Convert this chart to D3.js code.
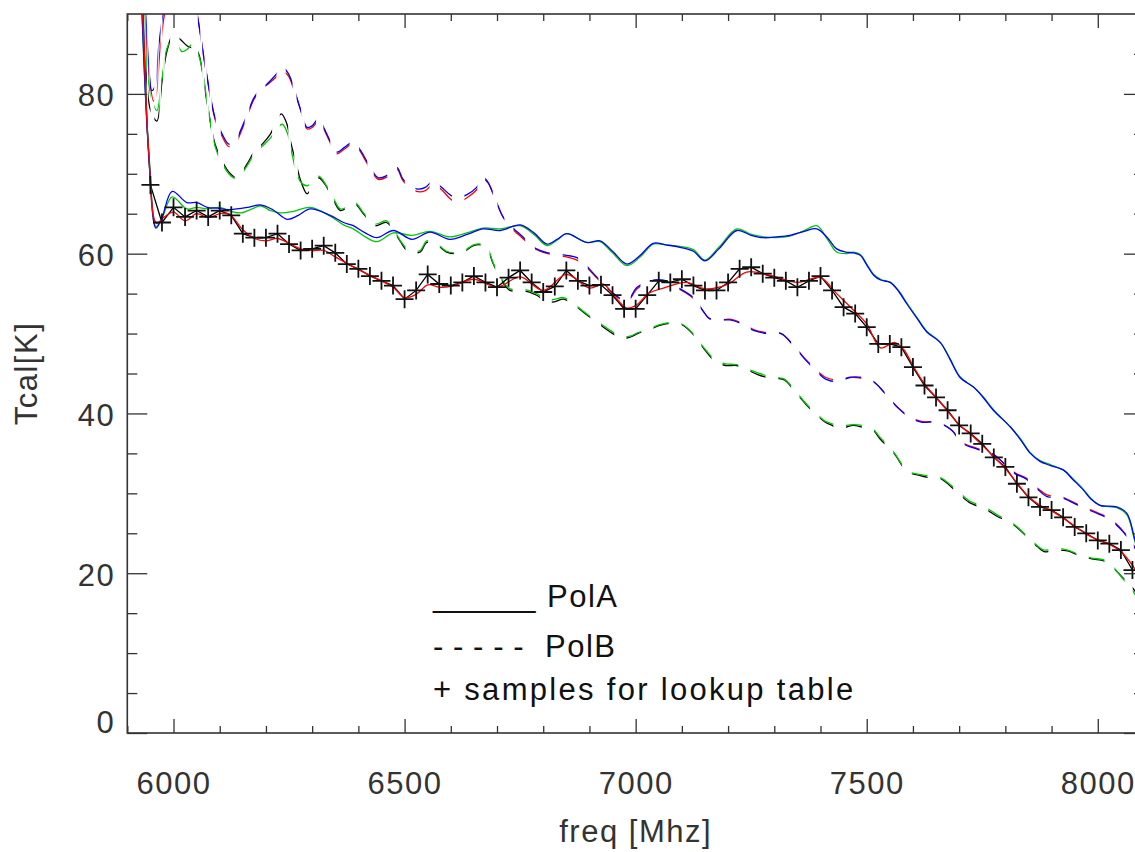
<!DOCTYPE html>
<html>
<head>
<meta charset="utf-8">
<script src="https://cdn.jsdelivr.net/npm/d3@7"></script>
<style>
  body { margin: 0; background: #fff; }
  text { font-family: "Liberation Sans", Arial, Helvetica, sans-serif; }
</style>
</head>
<body>
<div id="chart"></div>
<script>
// step 0 the data, freq in MHz, Tcal in K

// lookup table samples (the + marks), every 25 MHz
const sampleFreq = [5950, 5975, 6000, 6025, 6050, 6075, 6100, 6125, 6150, 6175, 6200, 6225, 6250, 6275, 6300, 6325,
  6350, 6375, 6400, 6425, 6450, 6475, 6500, 6525, 6550, 6575, 6600, 6625, 6650, 6675, 6700, 6725, 6750, 6775,
  6800, 6825, 6850, 6875, 6900, 6925, 6950, 6975, 7000, 7025, 7050, 7075, 7100, 7125, 7150, 7175, 7200, 7225,
  7250, 7275, 7300, 7325, 7350, 7375, 7400, 7425, 7450, 7475, 7500, 7525, 7550, 7575, 7600, 7625, 7650, 7675,
  7700, 7725, 7750, 7775, 7800, 7825, 7850, 7875, 7900, 7925, 7950, 7975, 8000, 8025, 8050, 8075];
const sampleTcal = [68.6, 63.9, 65.8, 64.6, 65.4, 64.6, 65.4, 64.8, 62.5, 62.0, 62.0, 62.5, 61.2, 60.4, 60.6, 61.0,
  60.1, 58.7, 58.1, 57.2, 56.6, 56.0, 54.3, 55.4, 57.4, 56.2, 56.0, 56.4, 57.2, 56.4, 55.8, 57.0, 57.9, 56.4,
  55.2, 55.9, 57.9, 56.6, 56.0, 56.1, 54.8, 53.1, 53.1, 54.8, 56.6, 56.4, 56.8, 56.0, 55.4, 55.4, 56.4, 58.1,
  58.3, 57.5, 57.0, 56.6, 55.8, 56.6, 57.2, 55.4, 53.3, 52.5, 50.8, 48.7, 48.7, 48.3, 45.8, 43.5, 42.0, 40.4,
  38.5, 37.5, 36.2, 34.5, 33.3, 31.2, 29.5, 28.3, 27.9, 27.0, 25.8, 25.0, 24.1, 23.7, 22.9, 20.4];

// black PolA curve: steep start, then straight pieces through the samples
const blackSolidStart = [[5926, 100], [5935, 88], [5943, 76]];

const redSolid = [[5926, 100], [5936, 86], [5946, 73], [5963, 63.8], [5980, 64.6], [6000, 65.2], [6025, 64.1],
  [6050, 65.0], [6075, 64.5], [6100, 65.0], [6120, 65.0], [6150, 63.0], [6175, 61.9], [6200, 61.6], [6225, 61.9],
  [6250, 61.3], [6275, 60.6], [6300, 60.4], [6325, 60.4], [6350, 59.6], [6375, 58.8], [6400, 58.0], [6425, 57.3],
  [6450, 56.6], [6475, 55.8], [6500, 54.5], [6525, 54.9], [6550, 56.1], [6575, 55.8], [6600, 55.9], [6650, 56.8],
  [6700, 55.8], [6750, 57.1], [6800, 55.4], [6850, 57.4], [6900, 55.7], [6930, 56.2], [6950, 55.0], [6980, 53.2],
  [7000, 53.5], [7030, 55.1], [7060, 55.7], [7110, 56.4], [7150, 55.6], [7200, 56.2], [7240, 57.7], [7290, 57.3],
  [7350, 56.4], [7400, 57.0], [7435, 55.0], [7465, 53.3], [7500, 51.2], [7530, 48.2], [7560, 48.9], [7580, 48.0],
  [7600, 46.0], [7625, 43.7], [7650, 42.0], [7675, 40.3], [7700, 38.6], [7725, 37.4], [7750, 36.0], [7775, 34.6],
  [7800, 33.1], [7825, 31.3], [7850, 29.6], [7875, 28.5], [7900, 27.8], [7925, 26.9], [7950, 25.9], [7975, 24.9],
  [8000, 24.2], [8025, 23.6], [8050, 22.7], [8075, 21.0], [8100, 18.5]];

const blueSolid = [[5926, 100], [5936, 84], [5948, 71], [5962, 63.2], [5975, 64.5], [5997, 67.8], [6029, 66.4],
  [6051, 66.4], [6073, 65.8], [6095, 65.7], [6116, 65.5], [6137, 65.6], [6160, 65.8], [6188, 66.1], [6215, 65.5],
  [6246, 64.3], [6270, 64.8], [6296, 65.6], [6339, 64.8], [6368, 63.9], [6389, 63.5], [6415, 62.6], [6440, 62.0],
  [6476, 62.9], [6516, 61.8], [6555, 62.7], [6598, 61.8], [6635, 62.4], [6670, 63.1], [6707, 62.9], [6750, 63.6],
  [6780, 62.6], [6808, 61.2], [6830, 61.8], [6851, 62.5], [6894, 61.4], [6923, 61.6], [6950, 60.3], [6981, 58.7],
  [7010, 59.8], [7038, 61.3], [7065, 61.1], [7096, 60.8], [7125, 60.3], [7150, 59.1], [7180, 60.6], [7219, 62.9],
  [7250, 62.3], [7277, 62.0], [7305, 62.1], [7334, 62.3], [7365, 62.8], [7392, 63.1], [7415, 62.0], [7435, 60.6],
  [7455, 60.2], [7471, 60.1], [7486, 59.8], [7500, 58.6], [7515, 57.3], [7530, 56.7], [7551, 56.4], [7570, 55.2],
  [7587, 53.7], [7610, 51.8], [7630, 50.2], [7659, 48.9], [7680, 46.8], [7702, 44.5], [7731, 43.3], [7752, 42.0],
  [7774, 40.4], [7811, 38.3], [7833, 36.7], [7854, 35.0], [7875, 34.0], [7897, 33.5], [7926, 32.9], [7945, 31.8],
  [7969, 30.4], [7985, 29.3], [8005, 28.5], [8041, 28.3], [8063, 27.5], [8081, 24.1], [8100, 21.0]];

const greenSolid = [[5926, 100], [5936, 84], [5948, 71.5], [5962, 63.4], [5975, 64.4], [5997, 67.1], [6029, 65.6],
  [6051, 65.8], [6073, 65.6], [6100, 65.8], [6125, 65.3], [6145, 65.1], [6170, 65.6], [6188, 66.0], [6210, 65.4],
  [6230, 65.1], [6260, 65.3], [6296, 65.8], [6339, 64.7], [6368, 63.6], [6389, 63.1], [6415, 62.1], [6440, 61.5],
  [6476, 62.6], [6516, 62.3], [6555, 62.8], [6598, 62.1], [6635, 62.6], [6670, 63.2], [6707, 63.1], [6750, 63.5],
  [6780, 62.4], [6808, 61.0], [6830, 61.7], [6851, 62.5], [6894, 61.4], [6923, 61.5], [6950, 60.1], [6981, 58.5],
  [7010, 59.6], [7038, 61.2], [7065, 61.1], [7096, 60.9], [7125, 60.5], [7150, 59.2], [7180, 60.8], [7219, 63.1],
  [7250, 62.4], [7277, 62.1], [7305, 62.0], [7334, 62.2], [7365, 62.9], [7392, 63.5], [7415, 61.8], [7435, 60.2],
  [7455, 60.0], [7471, 60.2], [7486, 59.9], [7500, 58.7], [7515, 57.4], [7530, 56.8], [7551, 56.4], [7570, 55.3],
  [7587, 53.8], [7610, 51.9], [7630, 50.3], [7659, 48.9], [7680, 46.9], [7702, 44.6], [7731, 43.3], [7752, 42.1],
  [7774, 40.5], [7811, 38.3], [7833, 36.8], [7854, 35.1], [7875, 34.1], [7897, 33.6], [7926, 32.9], [7945, 31.9],
  [7969, 30.5], [7985, 29.4], [8005, 28.5], [8041, 28.2], [8063, 27.3], [8081, 23.8], [8100, 20.5]];

const blueDashed = [[5928, 100], [5938, 92], [5946, 84], [5953, 80.4], [5960, 81], [5968, 86], [5982, 91.5],
  [6000, 95], [6030, 96], [6051, 90], [6070, 83], [6090, 77.0], [6105, 75.0], [6120, 73.7], [6135, 74.2],
  [6145, 75.4], [6160, 77.5], [6174, 79.5], [6190, 80.7], [6202, 81.2], [6220, 82.3], [6235, 83.3], [6248, 82.6],
  [6260, 80.8], [6275, 78.0], [6289, 75.8], [6300, 76.0], [6314, 76.9], [6325, 75.8], [6339, 74.1], [6353, 72.7],
  [6370, 73.3], [6389, 74.0], [6405, 72.9], [6418, 71.6], [6443, 69.5], [6462, 69.8], [6483, 70.8], [6497, 69.3],
  [6526, 68.1], [6545, 68.3], [6562, 69.1], [6580, 68.3], [6600, 67.3], [6613, 67.0], [6635, 67.4], [6656, 68.3],
  [6670, 69.5], [6680, 69.0], [6692, 67.5], [6714, 64.5], [6735, 63.2], [6754, 62.2], [6775, 61.0], [6793, 60.4],
  [6810, 60.1], [6829, 60.0], [6850, 59.8], [6873, 59.5], [6890, 58.7], [6909, 57.5], [6930, 56.2], [6952, 55.0],
  [6981, 54.1], [7003, 55.8], [7031, 56.6], [7060, 56.7], [7090, 55.8], [7125, 54.5], [7145, 52.9], [7159, 51.9],
  [7180, 51.7], [7204, 51.7], [7230, 51.2], [7255, 50.4], [7285, 50.0], [7315, 50.0], [7340, 48.6], [7366, 46.8],
  [7390, 45.4], [7411, 44.3], [7440, 44.0], [7462, 44.5], [7490, 44.5], [7514, 44.0], [7540, 42.5], [7566, 40.8],
  [7590, 39.6], [7618, 38.9], [7650, 38.9], [7684, 37.9], [7706, 36.3], [7740, 35.5], [7773, 34.9], [7796, 33.8],
  [7820, 32.5], [7845, 31.8], [7868, 30.6], [7890, 29.6], [7920, 29.5], [7940, 29.0], [7965, 28.3], [8002, 27.4],
  [8024, 26.8], [8053, 25.3], [8080, 23.2], [8100, 20.5]];

const redDashed = [[5928, 100], [5938, 91], [5946, 83], [5957, 79.1], [5963, 80], [5970, 85], [5982, 90.5],
  [6000, 94.5], [6030, 95.5], [6051, 90], [6070, 83], [6090, 76.8], [6105, 74.7], [6120, 73.4], [6135, 73.9],
  [6145, 75.1], [6160, 77.3], [6174, 79.3], [6190, 80.6], [6202, 81.1], [6220, 82.0], [6235, 82.8], [6248, 82.3],
  [6260, 80.6], [6275, 78.0], [6289, 75.6], [6300, 75.8], [6314, 76.6], [6325, 75.6], [6339, 73.9], [6353, 72.5],
  [6370, 73.1], [6389, 73.8], [6405, 72.7], [6418, 71.4], [6443, 69.3], [6462, 69.6], [6483, 70.6], [6497, 69.1],
  [6526, 67.8], [6545, 67.9], [6562, 68.7], [6580, 68.0], [6600, 66.8], [6613, 66.4], [6635, 67.0], [6656, 68.0],
  [6670, 69.3], [6680, 68.9], [6692, 67.4], [6714, 64.5], [6735, 63.0], [6754, 62.0], [6775, 60.9], [6793, 60.3],
  [6810, 60.0], [6829, 59.8], [6850, 59.6], [6873, 59.2], [6890, 58.5], [6909, 57.4], [6930, 56.1], [6952, 55.0],
  [6981, 54.0], [7003, 55.6], [7031, 56.5], [7060, 56.6], [7090, 55.7], [7125, 54.4], [7145, 52.9], [7159, 51.9],
  [7180, 51.7], [7204, 51.8], [7230, 51.3], [7255, 50.5], [7285, 50.1], [7315, 50.0], [7340, 48.6], [7366, 46.9],
  [7390, 45.5], [7411, 44.5], [7440, 44.2], [7462, 44.5], [7490, 44.4], [7514, 44.0], [7540, 42.5], [7566, 40.8],
  [7590, 39.7], [7618, 39.0], [7650, 38.9], [7684, 37.9], [7706, 36.4], [7740, 35.6], [7773, 34.9], [7796, 33.8],
  [7820, 32.6], [7845, 31.9], [7868, 30.7], [7890, 29.8], [7920, 29.6], [7940, 29.1], [7965, 28.4], [8002, 27.5],
  [8024, 26.9], [8053, 25.4], [8080, 23.3], [8100, 20.6]];

const blackDashed = [[5928, 100], [5936, 90], [5943, 81], [5950, 78], [5964, 76.6], [5975, 81.5], [5986, 85.4],
  [6000, 87.5], [6015, 86.8], [6030, 86.0], [6051, 85.4], [6062, 83.0], [6072, 79.1], [6090, 73.7], [6105, 71.6],
  [6123, 70.0], [6137, 69.5], [6159, 71.2], [6174, 72.7], [6195, 73.9], [6210, 75.0], [6233, 77.5], [6245, 76.3],
  [6253, 74.1], [6264, 71.6], [6276, 69.0], [6289, 67.5], [6300, 68.4], [6314, 69.5], [6332, 68.3], [6347, 66.6],
  [6361, 65.4], [6377, 65.8], [6393, 66.2], [6411, 65.0], [6436, 63.5], [6461, 63.9], [6490, 61.6], [6505, 60.4],
  [6520, 60.1], [6534, 60.2], [6548, 61.4], [6565, 61.2], [6577, 60.8], [6591, 60.2], [6610, 60.0], [6627, 60.2],
  [6649, 61.0], [6665, 61.1], [6678, 60.7], [6692, 58.7], [6707, 57.0], [6728, 55.4], [6754, 55.4], [6786, 54.8],
  [6808, 53.9], [6826, 54.0], [6844, 54.3], [6873, 53.3], [6900, 52.1], [6923, 51.1], [6945, 50.2], [6971, 49.4],
  [6990, 49.6], [7004, 50.0], [7027, 50.4], [7050, 51.0], [7078, 51.3], [7100, 51.1], [7126, 49.8], [7145, 48.3],
  [7174, 46.4], [7195, 46.0], [7219, 46.0], [7240, 45.5], [7263, 44.9], [7285, 44.5], [7305, 44.4], [7322, 44.2],
  [7344, 42.8], [7374, 40.8], [7389, 40.0], [7408, 39.0], [7425, 38.5], [7440, 38.1], [7470, 38.5], [7490, 38.3],
  [7514, 37.9], [7529, 36.8], [7558, 35.1], [7588, 32.7], [7610, 32.3], [7632, 32.0], [7658, 31.9], [7691, 30.4],
  [7721, 28.9], [7758, 28.0], [7780, 27.2], [7817, 26.1], [7846, 24.6], [7870, 23.3], [7884, 22.7], [7913, 22.9],
  [7935, 22.8], [7965, 22.1], [7987, 21.8], [8016, 21.5], [8031, 20.8], [8053, 19.5], [8080, 17.8], [8100, 15.5]];

const greenDashed = [[5928, 100], [5936, 91], [5943, 83], [5952, 79.5], [5964, 77.9], [5975, 81.8], [5990, 86.2],
  [6005, 86.4], [6018, 85.3], [6030, 85.6], [6040, 86.2], [6055, 84.7], [6065, 82.0], [6074, 78.6], [6090, 73.4],
  [6105, 71.3], [6123, 69.8], [6137, 69.4], [6159, 71.0], [6174, 72.4], [6195, 73.6], [6210, 74.5], [6235, 76.2],
  [6247, 75.0], [6256, 72.6], [6266, 70.2], [6276, 68.9], [6289, 68.5], [6300, 68.9], [6314, 69.7], [6332, 68.4],
  [6347, 66.8], [6361, 65.6], [6377, 65.9], [6393, 66.4], [6411, 65.1], [6436, 63.7], [6461, 64.1], [6490, 61.7],
  [6505, 60.6], [6520, 60.3], [6534, 60.4], [6548, 61.6], [6565, 61.3], [6577, 60.9], [6591, 60.3], [6610, 60.1],
  [6627, 60.3], [6649, 61.1], [6665, 61.2], [6678, 60.8], [6692, 58.8], [6707, 57.1], [6728, 55.6], [6754, 55.6],
  [6786, 55.0], [6808, 54.2], [6826, 54.3], [6844, 54.5], [6873, 53.4], [6900, 52.2], [6923, 51.3], [6945, 50.4],
  [6971, 49.6], [6990, 49.7], [7004, 50.1], [7027, 50.5], [7050, 51.1], [7078, 51.4], [7100, 51.2], [7126, 49.9],
  [7145, 48.4], [7174, 46.6], [7195, 46.2], [7219, 46.1], [7240, 45.6], [7263, 45.1], [7285, 44.7], [7305, 44.5],
  [7322, 44.3], [7344, 42.9], [7374, 40.9], [7389, 40.1], [7408, 39.1], [7425, 38.7], [7440, 38.4], [7470, 38.6],
  [7490, 38.5], [7514, 38.0], [7529, 37.0], [7558, 35.2], [7588, 32.8], [7610, 32.4], [7632, 32.2], [7658, 32.0],
  [7691, 30.6], [7721, 29.1], [7758, 28.2], [7780, 27.4], [7817, 26.2], [7846, 24.7], [7870, 23.4], [7884, 22.9],
  [7913, 23.1], [7935, 22.9], [7965, 22.2], [7987, 21.9], [8016, 21.6], [8031, 20.9], [8053, 19.4], [8080, 17.4],
  [8100, 15.0]];

// axis ticks
const xMajor = [6000, 6500, 7000, 7500, 8000];
const xMinor = [5900, 6100, 6200, 6300, 6400, 6600, 6700, 6800, 6900, 7100, 7200, 7300, 7400, 7600, 7700, 7800, 7900, 8100];
const yMajor = [0, 20, 40, 60, 80];
const yMinor = [5, 10, 15, 25, 30, 35, 45, 50, 55, 65, 70, 75, 85];

// step 1 svg and constants
const W = 1135, H = 852;
const plot = { left: 127.3, right: 1144, top: 14, bottom: 733 };
const fontSize = "31px", spacing = "1.5px";
const dashOn = 16, dashOff = 13;

const svg = d3.select("#chart")
  .append("svg")
  .attr("width", W)
  .attr("height", H);

svg.append("rect").attr("width", W).attr("height", H).attr("fill", "#fff");

// step 2 scales
const xScale = d3.scaleLinear().domain([5900, 8100]).range([plot.left, plot.right]);
const yScale = d3.scaleLinear().domain([0, 90]).range([plot.bottom, plot.top]);

const defs = svg.append("defs");
defs.append("clipPath").attr("id", "clip")
  .append("rect")
  .attr("x", plot.left).attr("y", plot.top)
  .attr("width", plot.right - plot.left).attr("height", plot.bottom - plot.top);

// step 3 the curves
const smooth = d3.line()
  .x(d => xScale(d[0]))
  .y(d => yScale(d[1]))
  .curve(d3.curveCatmullRom.alpha(0.5));

const straight = d3.line()
  .x(d => xScale(d[0]))
  .y(d => yScale(d[1]));

const samples = sampleFreq.map((f, i) => [f, sampleTcal[i]]);

const gLines = svg.append("g").attr("clip-path", "url(#clip)");

// dashed pairs share one dash pattern: measure it along the second curve
// and cut both curves with the same vertical strips, so the dashes line up
function dashClip(id, data) {
  const tmp = svg.append("path").attr("d", smooth(data)).attr("visibility", "hidden");
  const node = tmp.node();
  const total = node.getTotalLength();
  const strips = [];
  for (let s = 0; s < total; s += dashOn + dashOff) {
    const a = node.getPointAtLength(s).x;
    const b = node.getPointAtLength(Math.min(s + dashOn, total)).x;
    strips.push([Math.min(a, b), Math.max(a, b)]);
  }
  tmp.remove();
  defs.append("clipPath").attr("id", id)
    .selectAll("rect")
    .data(strips)
    .enter()
    .append("rect")
    .attr("x", d => d[0])
    .attr("width", d => Math.max(d[1] - d[0], 0.6))
    .attr("y", 0)
    .attr("height", H);
}

const dashedPairs = [
  { id: "dashLow", curves: [{ data: blackDashed, color: "#000000" }, { data: greenDashed, color: "#00c800" }] },
  { id: "dashHigh", curves: [{ data: redDashed, color: "#ff0000" }, { data: blueDashed, color: "#0000ff" }] }
];
dashedPairs.forEach(p => {
  dashClip(p.id, p.curves[1].data);
  const g = gLines.append("g").attr("clip-path", "url(#" + p.id + ")");
  p.curves.forEach(c => {
    g.append("path")
      .attr("d", smooth(c.data))
      .attr("fill", "none")
      .attr("stroke", c.color)
      .attr("stroke-width", 1.3);
  });
});

gLines.append("path")
  .attr("d", straight(blackSolidStart.concat(samples)))
  .attr("fill", "none")
  .attr("stroke", "#000")
  .attr("stroke-width", 1.3);

const solid = [
  { data: greenSolid, color: "#00c800" },
  { data: blueSolid, color: "#0000ff" },
  { data: redSolid, color: "#ff0000" }
];
solid.forEach(c => {
  gLines.append("path")
    .attr("d", smooth(c.data))
    .attr("fill", "none")
    .attr("stroke", c.color)
    .attr("stroke-width", 1.3);
});

// the + samples
gLines.selectAll(".plus")
  .data(samples)
  .enter()
  .append("path")
  .attr("class", "plus")
  .attr("transform", d => "translate(" + xScale(d[0]) + "," + yScale(d[1]) + ")")
  .attr("d", "M-9,0H9M0,-9V9")
  .attr("stroke", "#111")
  .attr("stroke-width", 1.8)
  .attr("fill", "none");

// step 4 axes (ticks on all four sides)
const tickColor = "#333";

function styleAxis(g) {
  g.select(".domain").remove();
  g.selectAll(".tick line").attr("stroke", tickColor).attr("stroke-width", 1.3);
}

// bottom
svg.append("g")
  .attr("transform", "translate(0," + plot.bottom + ")")
  .call(d3.axisBottom(xScale).tickValues(xMinor).tickSize(-7).tickFormat(""))
  .call(styleAxis);
const xAxisG = svg.append("g")
  .attr("transform", "translate(0," + plot.bottom + ")")
  .call(d3.axisBottom(xScale).tickValues(xMajor).tickSize(-14).tickFormat(d3.format("d")))
  .call(styleAxis);
xAxisG.selectAll(".tick text")
  .attr("y", 61)
  .attr("dy", 0)
  .attr("fill", "#333")
  .style("font-size", fontSize)
  .style("letter-spacing", spacing);

// top
svg.append("g")
  .attr("transform", "translate(0," + plot.top + ")")
  .call(d3.axisTop(xScale).tickValues(xMinor).tickSize(-7).tickFormat(""))
  .call(styleAxis);
svg.append("g")
  .attr("transform", "translate(0," + plot.top + ")")
  .call(d3.axisTop(xScale).tickValues(xMajor).tickSize(-14).tickFormat(""))
  .call(styleAxis);

// left
svg.append("g")
  .attr("transform", "translate(" + plot.left + ",0)")
  .call(d3.axisLeft(yScale).tickValues(yMinor).tickSize(-10).tickFormat(""))
  .call(styleAxis);
const yAxisG = svg.append("g")
  .attr("transform", "translate(" + plot.left + ",0)")
  .call(d3.axisLeft(yScale).tickValues(yMajor).tickSize(-20).tickPadding(12).tickFormat(d3.format("d")))
  .call(styleAxis);
yAxisG.selectAll(".tick text")
  .attr("dy", d => d === 0 ? -1 : 12)
  .attr("fill", "#333")
  .style("font-size", fontSize)
  .style("letter-spacing", spacing);

// right (its line is just outside the picture, only the ticks show)
svg.append("g")
  .attr("transform", "translate(" + plot.right + ",0)")
  .call(d3.axisRight(yScale).tickValues(yMinor).tickSize(-10).tickFormat(""))
  .call(styleAxis);
svg.append("g")
  .attr("transform", "translate(" + plot.right + ",0)")
  .call(d3.axisRight(yScale).tickValues(yMajor).tickSize(-20).tickFormat(""))
  .call(styleAxis);

// frame
svg.append("rect")
  .attr("x", plot.left).attr("y", plot.top)
  .attr("width", plot.right - plot.left).attr("height", plot.bottom - plot.top)
  .attr("fill", "none")
  .attr("stroke", "#333")
  .attr("stroke-width", 1.6);

// step 5 axis titles
svg.append("text")
  .attr("x", (plot.left + plot.right) / 2)
  .attr("y", 842)
  .attr("text-anchor", "middle")
  .attr("fill", "#333")
  .style("font-size", fontSize)
  .style("letter-spacing", spacing)
  .text("freq [Mhz]");

svg.append("text")
  .attr("transform", "translate(37," + (plot.top + plot.bottom) / 2 + ") rotate(-90)")
  .attr("text-anchor", "middle")
  .attr("fill", "#333")
  .style("font-size", fontSize)
  .style("letter-spacing", spacing)
  .text("Tcal[K]");

// step 6 legend (plain text, like the original)
const legend = svg.append("g")
  .attr("fill", "#111")
  .style("font-size", fontSize)
  .style("letter-spacing", spacing);

legend.append("text").attr("x", 433).attr("y", 607)
  .attr("textLength", 104).attr("lengthAdjust", "spacing").text("______");
legend.append("text").attr("x", 547).attr("y", 607).text("PolA");
legend.append("text").attr("x", 433).attr("y", 657)
  .attr("textLength", 92).attr("lengthAdjust", "spacing").text("- - - - -");
legend.append("text").attr("x", 545).attr("y", 657).text("PolB");
legend.append("text").attr("x", 433).attr("y", 700)
  .style("letter-spacing", "2.3px")
  .text("+ samples for lookup table");
</script>
</body>
</html>
